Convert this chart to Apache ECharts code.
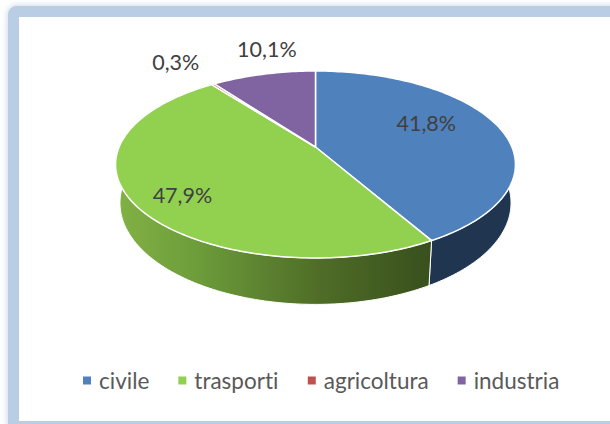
<!DOCTYPE html>
<html>
<head>
<meta charset="utf-8">
<style>
html, body { margin: 0; padding: 0; background: #fff; }
#chart { width: 610px; height: 424px; }
#chart text { font-variant-ligatures: none; }
</style>
<script src="https://cdn.jsdelivr.net/npm/echarts@6/dist/echarts.min.js"></script>
</head>
<body>
<div id="chart"></div>
<script>
var categories = ['civile', 'trasporti', 'agricoltura', 'industria'];
var shares = [41.8, 47.9, 0.3, 10.1];
var shareLabels = ['41,8%', '47,9%', '0,3%', '10,1%'];

var topColors = ['#4f81bd', '#92d050', '#c0504d', '#8064a2'];

// tilted disc: the projected centre sits above the middle of the ellipse
var discX = 315.5, discY = 147, discA = 196.4, discB = 90.2, tilt = 0.187;
// bottom rim is a bit narrower and rounder than the top rim
var rimY = 164.5, bottomY = 203, bottomScaleX = 0.978, bottomScaleY = 1.085;
var labelFont = 'Lato';

function project(angle, r) {
	var u = Math.sin(angle) * r;
	var v = Math.cos(angle) * r;
	var d = 1 + tilt * v;
	return [discX + discA * u / d, discY - discB * v / d];
}

function lower(p) {
	return [discX + (p[0] - discX) * bottomScaleX, bottomY + (p[1] - rimY) * bottomScaleY];
}

function wallFill(i) {
	if (i === 1) {
		return new echarts.graphic.LinearGradient(0, 0, 1, 0, [
			{ offset: 0, color: '#82b245' },
			{ offset: 0.27, color: '#6c9b3a' },
			{ offset: 0.55, color: '#56782c' },
			{ offset: 0.65, color: '#4f6c27' },
			{ offset: 1, color: '#38501d' }
		]);
	}
	if (i === 0) {
		return '#1f3550';
	}
	return i === 2 ? '#7a2f2d' : '#4d3c62';
}

// label placement along the slice's middle radius, with a small nudge
var labelRadius = [0.6, 0.75, 1.43, 1.4];
var labelNudge = [[0, -11], [0, 7], [-1, 0], [20, -2]];

var total = shares.reduce(function(a, b) { return a + b; }, 0);
var startShare = [];
(function() {
	var sum = 0;
	for (var i = 0; i < shares.length; i++) {
		startShare.push(sum);
		sum += shares[i];
	}
})();

function renderSlice(params, api) {
	var i = params.seriesIndex;
	var a0 = api.value(0) / total * Math.PI * 2;
	var a1 = (api.value(0) + api.value(1)) / total * Math.PI * 2;
	var steps = Math.max(2, Math.ceil((a1 - a0) / 0.02));
	var arc = [];
	for (var k = 0; k <= steps; k++) {
		arc.push(project(a0 + (a1 - a0) * k / steps, 1));
	}
	var wall = arc.concat(arc.slice().reverse().map(lower));
	var mid = (a0 + a1) / 2;
	var lp = project(mid, labelRadius[i]);
	return {
		type: 'group',
		children: [
			{
				type: 'polygon',
				z2: 1,
				shape: { points: wall },
				style: { fill: wallFill(i), stroke: '#fff', lineWidth: 1 }
			},
			{
				type: 'polygon',
				z2: 10,
				shape: { points: [[discX, discY]].concat(arc) },
				style: { fill: topColors[i], stroke: '#fff', lineWidth: 1.5 }
			},
			{
				type: 'text',
				z2: 20,
				style: {
					text: shareLabels[i],
					x: lp[0] + labelNudge[i][0],
					y: lp[1] + labelNudge[i][1],
					align: 'center',
					verticalAlign: 'middle',
					fill: '#404040',
					fontFamily: labelFont,
					fontSize: 21.5
				}
			}
		]
	};
}

var chart = echarts.init(document.getElementById('chart'), null, { renderer: 'svg' });

var series = categories.map(function(name, i) {
	return {
		name: name,
		type: 'custom',
		coordinateSystem: 'none',
		silent: true,
		itemStyle: { color: topColors[i] },
		data: [[startShare[i], shares[i]]],
		renderItem: renderSlice
	};
});

chart.setOption({
	animation: false,
	backgroundColor: '#fff',
	graphic: [{
		type: 'rect',
		z: -1,
		shape: { x: 13.5, y: 11.5, width: 700, height: 415, r: 3 },
		style: {
			fill: '#fff',
			stroke: '#b9cde5',
			lineWidth: 11,
			shadowBlur: 7,
			shadowColor: 'rgba(150,175,205,0.6)'
		}
	}],
	legend: {
		data: categories,
		left: 83,
		top: 369,
		padding: 0,
		icon: 'rect',
		itemWidth: 8,
		itemHeight: 8,
		itemGap: 29,
		selectedMode: false,
		textStyle: { color: '#595959', fontFamily: labelFont, fontSize: 22.5, padding: [0, 0, 0, 3] }
	},
	series: series
});
</script>
</body>
</html>
